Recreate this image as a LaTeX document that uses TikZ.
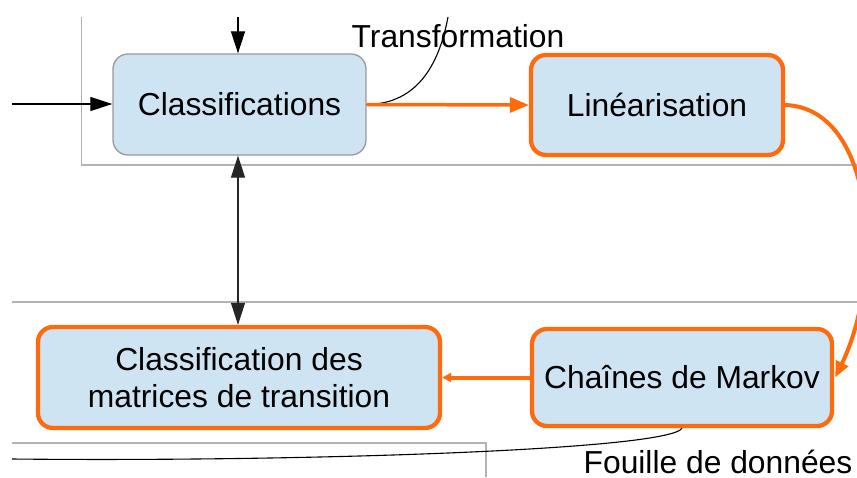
\documentclass[tikz,border=0pt]{standalone}
\usepackage{fontspec}
\setmainfont{Liberation Sans}
\usetikzlibrary{arrows.meta}
\definecolor{boxfill}{HTML}{CFE4F2}
\definecolor{hot}{HTML}{FF6A0D}
\definecolor{frame}{HTML}{B3B3B3}
\definecolor{boxgray}{HTML}{9A9A9A}
\begin{document}
\begin{tikzpicture}[x=1pt,y=-1pt,
  every node/.style={font=\fontsize{31.8}{37}\selectfont, text=black},
  procbox/.style={draw=boxgray, line width=1.3pt, fill=boxfill, rounded corners=15pt, inner sep=0pt, align=center},
  hotbox/.style={draw=hot, line width=4.3pt, fill=boxfill, rounded corners=15pt, inner sep=0pt, align=center},
  lane/.style={draw=frame, line width=1.4pt},
  blackarrow/.style={draw=black, line width=1.2pt, -{Triangle[length=22pt,width=14pt]}},
  bothways/.style={draw=black!85, line width=1.2pt, {Triangle[length=22pt,width=14pt]}-{Triangle[length=22pt,width=14pt]}},
  hotarrow/.style={draw=hot, line width=3.5pt, -{Triangle[length=19pt,width=15pt]}},
  hotsmall/.style={draw=hot, line width=4pt, -{Triangle[length=9pt,width=9pt]}},
  note/.style={draw=black, line width=1.1pt}
]
\clip (0,0) rectangle (857,477);
\fill[white] (0,0) rectangle (857,477);

% swimlane frames
\coordinate (fA) at (81.5,17);
\coordinate (fB) at (81.5,165);
\coordinate (fC) at (857,165);
\coordinate (gA) at (12,302);
\coordinate (gB) at (857,302);
\coordinate (hA) at (12,443);
\coordinate (hB) at (486,443);
\coordinate (hC) at (486,477);
\draw[lane] (fA) -- (fB) -- (fC);
\draw[lane] (gA) -- (gB);
\draw[lane] (hA) -- (hB) -- (hC);

% nodes
\node[procbox, minimum width=253pt, minimum height=101pt] (cls) at (239.5,104.5) {Classifications};
\node[hotbox, minimum width=252pt, minimum height=100pt] (lin) at (657,105) {Linéarisation};
\node[hotbox, minimum width=300pt, minimum height=97pt] (mkv) at (682,377.5) {Chaînes de Markov};
\node[hotbox, minimum width=402pt, minimum height=101pt] (mat) at (239,377.5) {Classification des\\matrices de transition};

\node[inner sep=1pt] (tr) at (458,36) {Transformation};
\node[inner sep=1pt] (fd) at (718,462) {Fouille de données};

% free ends
\coordinate (inTop) at (238,17);
\coordinate (inLeft) at (12,104);
\coordinate (trEnd) at (448,17);
\coordinate (fdEnd) at (12,459);

% connectors
\draw[blackarrow] (inTop) -- (inTop |- cls.north);
\draw[blackarrow] (inLeft) -- (cls.west |- inLeft);
\draw[bothways] (cls.south -| inTop) -- (mat.north -| inTop);
\draw[note] (cls.east) .. controls (420,104) and (440,60) .. (trEnd);
\draw[hotarrow] (cls.east) -- (lin.west);
\draw[hotarrow, line width=4pt, -{Triangle[length=16pt,width=13pt]}] (lin.east) .. controls (875,108) and (885,275) .. ([xshift=1pt]mkv.east);
\draw[hotsmall] (mkv.west) -- (mat.east);
\draw[note] (mkv.south) .. controls (670,450) and (300,462) .. (fdEnd);
\end{tikzpicture}
\end{document}
